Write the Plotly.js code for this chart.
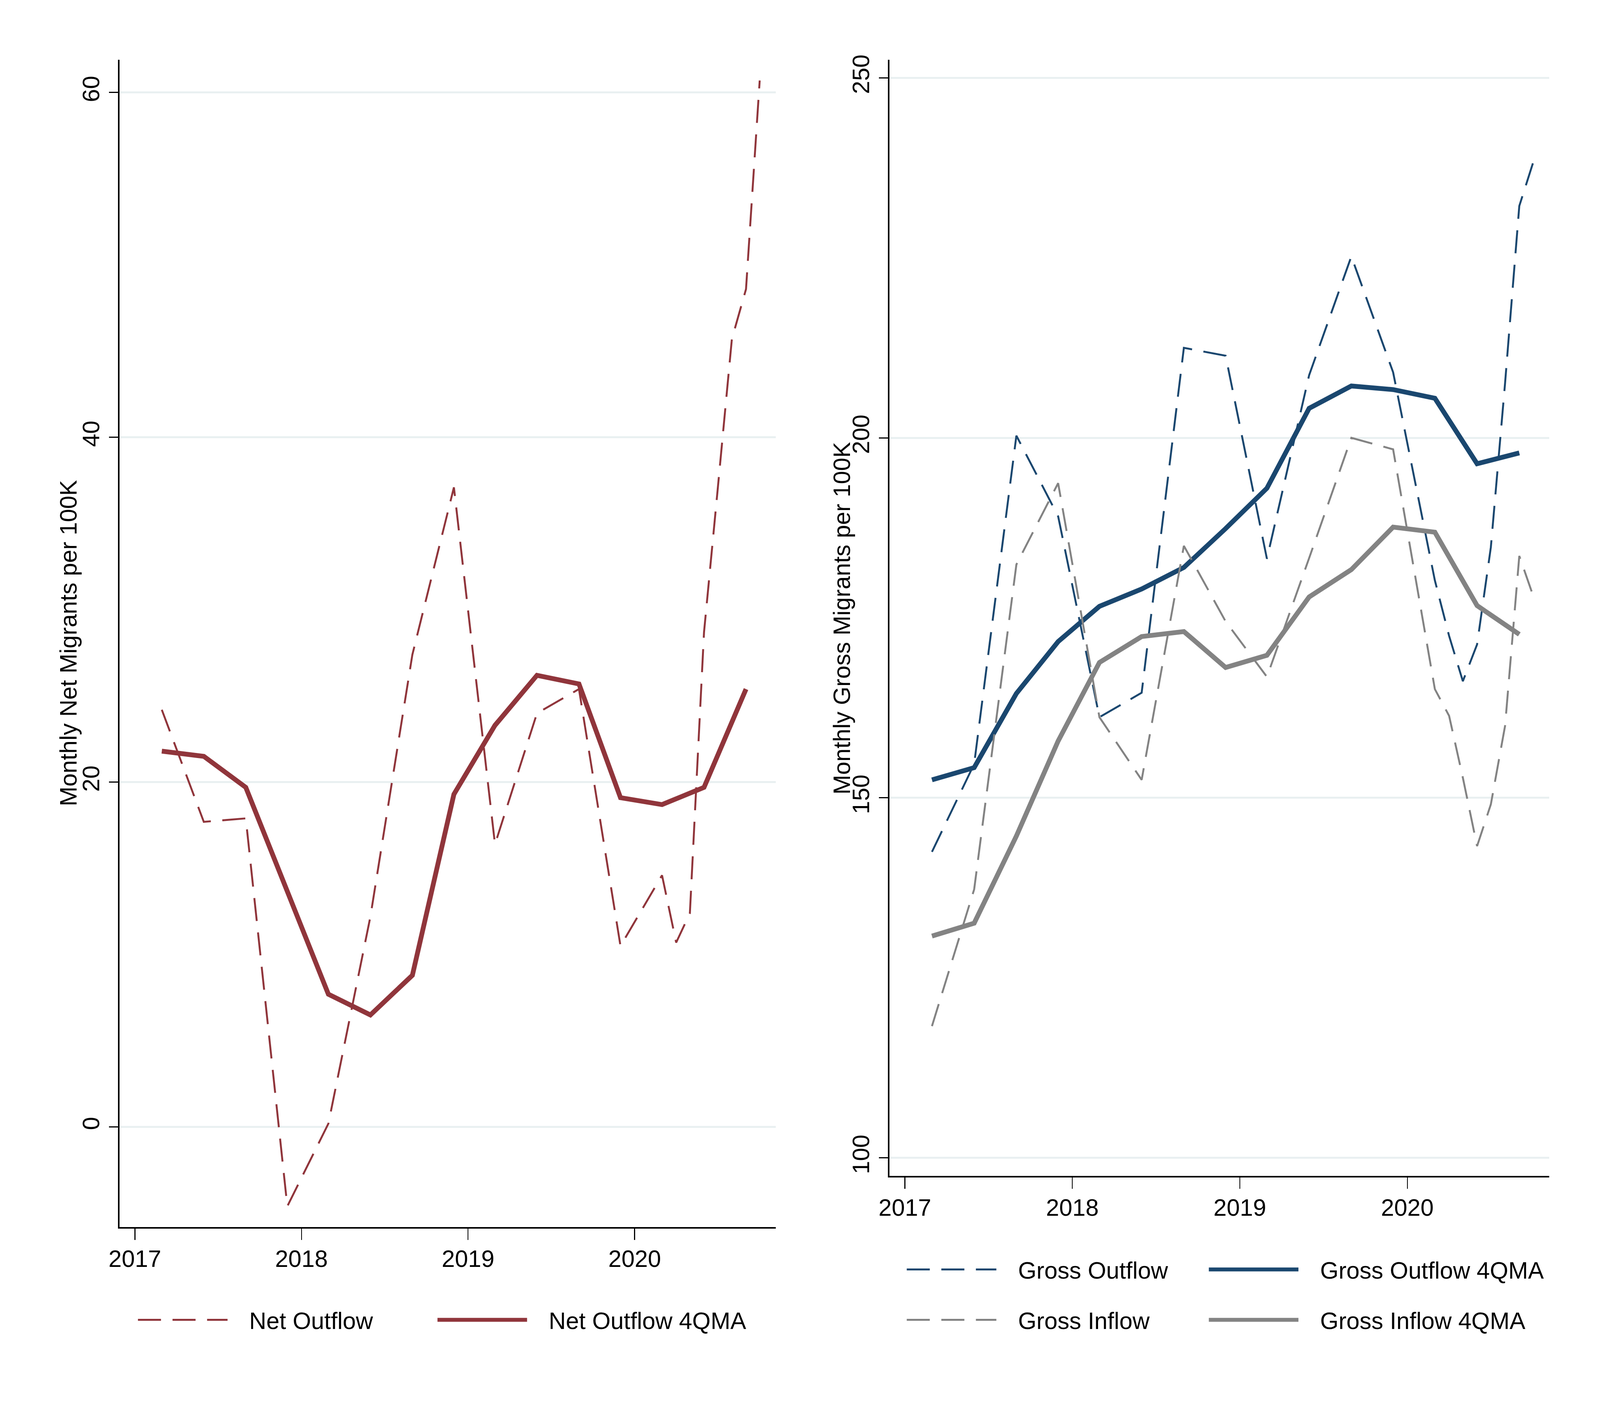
<!DOCTYPE html>
<html>
<head>
<meta charset="utf-8">
<script src="https://cdn.plot.ly/plotly-3.0.1.min.js"></script>
<style>
  html, body { margin: 0; padding: 0; background: #fff; overflow: hidden; }
</style>
</head>
<body>
<div id="chart"></div>
<script>
// quarterly points, then monthly from 2020m3 on
const outflowDates = ['2017-03-01', '2017-06-01', '2017-09-01', '2017-12-01',
    '2018-03-01', '2018-06-01', '2018-09-01', '2018-12-01',
    '2019-03-01', '2019-06-01', '2019-09-01', '2019-12-01',
    '2020-03-01', '2020-04-01', '2020-05-01', '2020-06-01',
    '2020-07-01', '2020-08-01', '2020-09-01', '2020-10-01'];
const maDates = ['2017-03-01', '2017-06-01', '2017-09-01', '2017-12-01',
    '2018-03-01', '2018-06-01', '2018-09-01', '2018-12-01',
    '2019-03-01', '2019-06-01', '2019-09-01', '2019-12-01',
    '2020-03-01', '2020-06-01', '2020-09-01'];

const netOutflow = [24.2, 17.7, 17.9, -4.6, 0.2, 12.2, 27.4, 37.1,
    16.4, 24.0, 25.4, 10.5, 14.6, 10.7, 12.4, 28.7, 37.0, 45.7, 48.6, 60.7];
const netOutflowMA = [21.8, 21.5, 19.7, 13.7, 7.7, 6.5, 8.8, 19.3,
    23.3, 26.2, 25.7, 19.1, 18.7, 19.7, 25.4];

const grossOutflow = [142.5, 154.7, 200.3, 189.1, 161.2, 164.6, 212.5, 211.4,
    183.2, 208.7, 225.2, 209.1, 180.2, 172.5, 166.2, 171.3, 184.8, 207.6, 232.2, 238.2];
const grossOutflowMA = [152.5, 154.2, 164.5, 171.7, 176.6, 179.0, 182.0, 187.4,
    193.0, 204.1, 207.2, 206.7, 205.5, 196.4, 197.9];
const grossInflow = [118.3, 137.3, 182.4, 193.7, 161.2, 152.5, 185.0, 174.5,
    166.8, 183.3, 200.0, 198.4, 165.1, 161.4, 152.8, 143.3, 149.1, 160.0, 183.6, 178.1];
const grossInflowMA = [130.8, 132.6, 144.7, 157.9, 168.8, 172.4, 173.1, 168.1,
    169.8, 177.9, 181.7, 187.6, 186.9, 176.7, 172.7];

const yearTicks = ['2017-01-01', '2018-01-01', '2019-01-01', '2020-01-01'];
const netTicks = [0, 20, 40, 60];
const grossTicks = [100, 150, 200, 250];

const MAROON = '#90353b', NAVY = '#1a476f', GRAY = '#838383';
const FONT = 'Liberation Sans, Arial, sans-serif';

// laid out for 5000x3636, stretched to whatever the window really is
const W = window.innerWidth, H = window.innerHeight;
const kx = W / 5000, ky = H / 3636;
const sx = v => v * kx, sy = v => v * ky;
document.getElementById('chart').style.width = W + 'px';
document.getElementById('chart').style.height = H + 'px';

const DASH = sx(72).toFixed(1) + 'px,' + sx(36).toFixed(1) + 'px';
const GAP = '\u00a0\u00a0\u00a0';   // room between legend key and label

function line(x, y, name, color, dashed, xa, ya, legend) {
    return {
        x: x, y: y, name: GAP + name, type: 'scatter', mode: 'lines',
        xaxis: xa, yaxis: ya, legend: legend,
        line: { color: color, width: sx(dashed ? 6 : 15), dash: dashed ? DASH : 'solid' },
        hoverinfo: 'skip'
    };
}

const traces = [
    line(outflowDates, netOutflow, 'Net Outflow', MAROON, true, 'x', 'y', 'legend'),
    line(maDates, netOutflowMA, 'Net Outflow 4QMA', MAROON, false, 'x', 'y', 'legend2'),
    line(outflowDates, grossOutflow, 'Gross Outflow', NAVY, true, 'x2', 'y2', 'legend3'),
    line(maDates, grossOutflowMA, 'Gross Outflow 4QMA', NAVY, false, 'x2', 'y2', 'legend4'),
    line(outflowDates, grossInflow, 'Gross Inflow', GRAY, true, 'x2', 'y2', 'legend5'),
    line(maDates, grossInflowMA, 'Gross Inflow 4QMA', GRAY, false, 'x2', 'y2', 'legend6')
];

const FS = sx(74);
const tickFont = { family: FONT, size: FS, color: '#000' };
const xCommon = {
    type: 'date', range: ['2016-11-28', '2020-11-05'],
    tickvals: yearTicks, tickformat: '%Y',
    ticks: 'outside', ticklen: sy(29), tickwidth: sx(3), tickcolor: '#000',
    ticklabelstandoff: Math.round(sy(-4)),
    showline: true, linewidth: sy(4), linecolor: '#000',
    showgrid: false, zeroline: false, automargin: false,
    tickfont: tickFont
};
const yCommon = {
    ticks: 'outside', ticklen: sx(29), tickwidth: sy(3), tickcolor: '#000', tickangle: -90,
    showline: true, linewidth: sx(4), linecolor: '#000',
    showgrid: true, gridcolor: '#e9f0f1', gridwidth: sy(5),
    zeroline: false, automargin: false,
    tickfont: tickFont
};
// one legend per entry so each key sits where the reference puts it
function legendAt(x, y) {
    return {
        x: x, y: y, orientation: 'h', xanchor: 'left', yanchor: 'middle',
        itemwidth: Math.max(30, sx(280)), bgcolor: 'rgba(0,0,0,0)',
        font: { family: FONT, size: FS, color: '#000' }
    };
}
const row1 = 0.106, row2 = 0.0705;

const layout = {
    width: W, height: H,
    margin: { l: 0, r: 0, t: 0, b: 0 },
    paper_bgcolor: '#fff', plot_bgcolor: '#fff',
    showlegend: true,
    xaxis: Object.assign({}, xCommon, { domain: [0.0746, 0.4848], anchor: 'y' }),
    yaxis: Object.assign({}, yCommon, { domain: [0.1359, 0.9579], range: [-5.8, 61.9],
        tickvals: netTicks, anchor: 'x' }),
    xaxis2: Object.assign({}, xCommon, { domain: [0.5558, 0.9682], anchor: 'y2' }),
    yaxis2: Object.assign({}, yCommon, { domain: [0.1719, 0.9579], range: [97.5, 252.5],
        tickvals: grossTicks, anchor: 'x2' }),
    legend: legendAt(0.085, row2),
    legend2: legendAt(0.2722, row2),
    legend3: legendAt(0.5655, row1),
    legend4: legendAt(0.7543, row1),
    legend5: legendAt(0.5655, row2),
    legend6: legendAt(0.7543, row2),
    annotations: [
        { text: 'Monthly Net Migrants per 100K', xref: 'paper', yref: 'paper',
          x: 0.0428, y: 0.547, textangle: -90, showarrow: false,
          xanchor: 'center', yanchor: 'middle',
          font: { family: FONT, size: FS, color: '#000' } },
        { text: 'Monthly Gross Migrants per 100K', xref: 'paper', yref: 'paper',
          x: 0.5262, y: 0.5646, textangle: -90, showarrow: false,
          xanchor: 'center', yanchor: 'middle',
          font: { family: FONT, size: FS, color: '#000' } }
    ]
};

Plotly.newPlot('chart', traces, layout, { staticPlot: true });
</script>
</body>
</html>
